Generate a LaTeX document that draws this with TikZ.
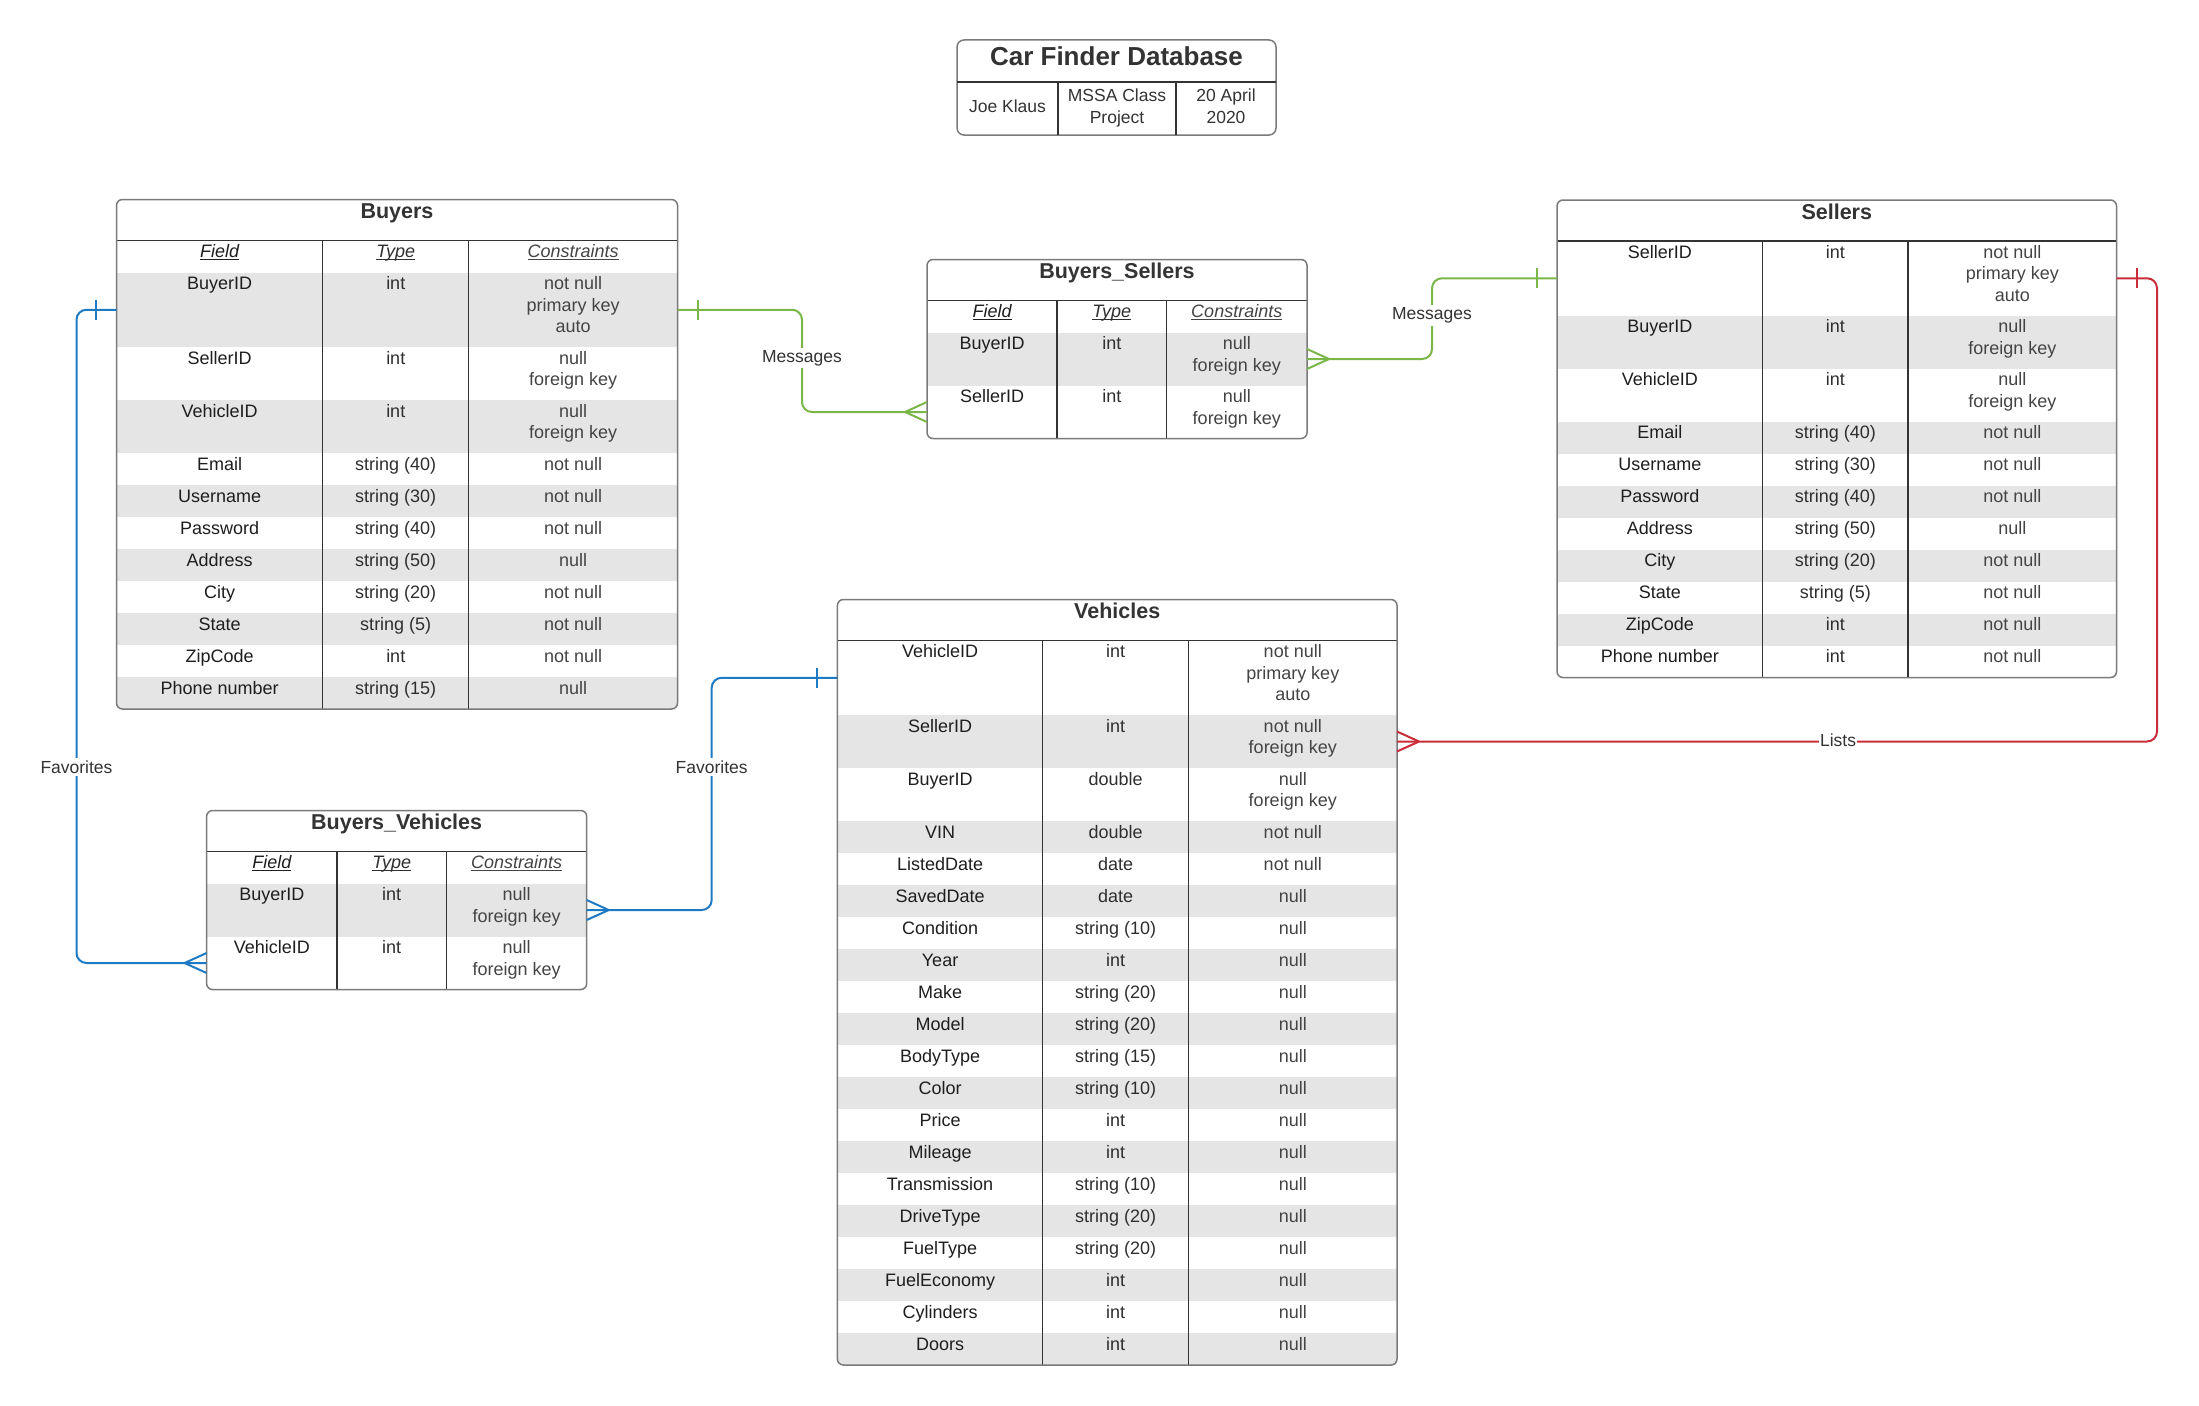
\documentclass[tikz,border=0pt]{standalone}
\usepackage{fontspec}
\setmainfont{Liberation Sans}
\usetikzlibrary{calc}

\definecolor{rowgray}{HTML}{E5E5E5}
\definecolor{framegray}{HTML}{7A7A7A}
\definecolor{linedark}{HTML}{333333}
\definecolor{fieldtext}{HTML}{1E1E1E}
\definecolor{typetext}{HTML}{2E2E2E}
\definecolor{constext}{HTML}{444444}
\definecolor{titletext}{HTML}{333333}
\definecolor{relgreen}{HTML}{7AB648}
\definecolor{relblue}{HTML}{1E7BC3}
\definecolor{relred}{HTML}{C92D39}

\newcommand\cellfont{\fontsize{18}{21.6}\selectfont}
\newcommand\subfont{\fontsize{17.5}{22}\selectfont}
% underlined column heading
\newcommand\ulhead[1]{\setbox0\hbox{#1}\rlap{\rule[-2.2pt]{\wd0}{1.1pt}}\box0}

\tikzset{
  rowbox/.style={rectangle, draw=none, inner sep=0pt, outer sep=0pt, anchor=north west},
  cell/.style={font=\cellfont, align=center, inner sep=0pt, anchor=north},
  subcell/.style={font=\subfont, align=center, inner sep=0pt, anchor=north, text=titletext},
  tabtitle/.style={font=\fontsize{21.5}{25}\selectfont\bfseries, text=titletext, inner sep=0pt, anchor=base},
  tabframe/.style={rectangle, draw=framegray, line width=1.5pt, rounded corners=6pt,
    inner sep=0pt, outer sep=0pt, anchor=north west},
  divider/.style={draw=linedark, line width=1.2pt},
  conn/.style={line width=2pt, rounded corners=10pt},
  cfoot/.style={line width=2pt},
  lbl/.style={fill=white, inner sep=2.5pt, font=\fontsize{17.5}{21}\selectfont, text=titletext},
}

% table geometry: left, right, first divider, second divider, top, bottom
\newcommand\tabsetup[6]{%
  \def\xL{#1}\def\xR{#2}\def\xA{#3}\def\xB{#4}\def\yT{#5}\def\yB{#6}%
  \pgfmathsetmacro\cA{(#1+#3)/2}%
  \pgfmathsetmacro\cB{(#3+#4)/2}%
  \pgfmathsetmacro\cC{(#4+#2)/2}%
  \pgfmathsetmacro\tw{#2-#1}%
  \pgfmathsetmacro\tabh{#6-#5}%
  \pgfmathsetmacro\tmid{(#1+#2)/2}%
  \pgfmathsetmacro\ynext{#5+41}\xdef\ycur{\ynext}%
}

% one table row: name, height, fill, field, type, constraints
\newcommand\trow[6]{%
  \node[rowbox, fill=#3, minimum width=\tw, minimum height=#2] (#1) at (\xL,\ycur) {};
  \node[cell, text=fieldtext] (#1-f) at (\cA,\ycur+3) {\rule{0pt}{14pt}#4};
  \node[cell, text=typetext] (#1-t) at (\cB,\ycur+3) {\rule{0pt}{14pt}#5};
  \node[cell, text=constext] (#1-c) at (\cC,\ycur+3) {\rule{0pt}{14pt}#6};
  \pgfmathsetmacro\ynext{\ycur+#2}\xdef\ycur{\ynext}%
}

\newcommand\headrow[1]{%
  \trow{#1}{32}{white}{\ulhead{\itshape Field}}{\ulhead{\itshape Type}}{\ulhead{\itshape Constraints}}}

% title, rules and rounded frame of a table
\newcommand\tabframe[2]{%
  \node[tabtitle] (#1-title) at (\tmid,\yT+19.2) {#2};
  \draw[divider] (\xL,\yT+41) -- (\xR,\yT+41);
  \draw[divider] (\xA,\yT+41) -- (\xA,\yB);
  \draw[divider] (\xB,\yT+41) -- (\xB,\yB);
  \node[tabframe, minimum width=\tw, minimum height=\tabh] (#1) at (\xL,\yT) {};
}

% relationship ends: crow's foot (many) and bar (one)
\newcommand\manyW[2]{\draw[#2, cfoot] ($(#1)+(-22,0)$) -- ($(#1)+(0,-10)$) ($(#1)+(-22,0)$) -- ($(#1)+(0,10)$);}
\newcommand\manyE[2]{\draw[#2, cfoot] ($(#1)+(22,0)$) -- ($(#1)+(0,-10)$) ($(#1)+(22,0)$) -- ($(#1)+(0,10)$);}
\newcommand\oneW[2]{\draw[#2, cfoot] ($(#1)+(-20.5,-10)$) -- ($(#1)+(-20.5,10)$);}
\newcommand\oneE[2]{\draw[#2, cfoot] ($(#1)+(20.5,-10)$) -- ($(#1)+(20.5,10)$);}

\begin{document}
\begin{tikzpicture}[x=1pt, y=-1pt]
\fill[white] (0,0) rectangle (2199,1405);
\useasboundingbox (0,0) rectangle (2199,1405);

% ---------- title block ----------
\node[tabframe, minimum width=319, minimum height=95, rounded corners=7pt] (titlebox) at (957,40) {};
\draw[divider] (957,82) -- (1276,82);
\draw[divider] (1058,82) -- (1058,135);
\draw[divider] (1176,82) -- (1176,135);
\node[font=\fontsize{26}{31}\selectfont\bfseries, text=titletext, inner sep=0pt, anchor=base] (title) at (1116.5,66) {Car Finder Database};
\node[subcell] (author) at (1007.5,98) {\rule{0pt}{14pt}Joe Klaus};
\node[subcell] (course) at (1117,87.7) {\rule{0pt}{14pt}MSSA Class\\Project};
\node[subcell] (date) at (1226,87.7) {\rule{0pt}{14pt}20 April\\2020};

% ---------- Buyers ----------
\tabsetup{116.5}{677.5}{322.7}{468.8}{199.5}{709}
\begin{scope}
\clip[rounded corners=6pt] (\xL,\yT) rectangle (\xR,\yB);
\headrow{bu-head}
\trow{bu-BuyerID}{74.5}{rowgray}{BuyerID}{int}{not null\\primary key\\auto}
\trow{bu-SellerID}{53}{white}{SellerID}{int}{null\\foreign key}
\trow{bu-VehicleID}{53}{rowgray}{VehicleID}{int}{null\\foreign key}
\trow{bu-Email}{32}{white}{Email}{string (40)}{not null}
\trow{bu-Username}{32}{rowgray}{Username}{string (30)}{not null}
\trow{bu-Password}{32}{white}{Password}{string (40)}{not null}
\trow{bu-Address}{32}{rowgray}{Address}{string (50)}{null}
\trow{bu-City}{32}{white}{City}{string (20)}{not null}
\trow{bu-State}{32}{rowgray}{State}{string (5)}{not null}
\trow{bu-ZipCode}{32}{white}{ZipCode}{int}{not null}
\trow{bu-Phone}{32}{rowgray}{Phone number}{string (15)}{null}
\end{scope}
\tabframe{buyers}{Buyers}

% ---------- Buyers_Sellers ----------
\tabsetup{927}{1307}{1057}{1166.5}{259.5}{438.5}
\begin{scope}
\clip[rounded corners=6pt] (\xL,\yT) rectangle (\xR,\yB);
\headrow{bs-head}
\trow{bs-BuyerID}{53}{rowgray}{BuyerID}{int}{null\\foreign key}
\trow{bs-SellerID}{53}{white}{SellerID}{int}{null\\foreign key}
\end{scope}
\tabframe{buyerssellers}{Buyers\_Sellers}

% ---------- Sellers ----------
\tabsetup{1557}{2116.5}{1762.7}{1908}{200}{677.5}
\begin{scope}
\clip[rounded corners=6pt] (\xL,\yT) rectangle (\xR,\yB);
\trow{se-SellerID}{74.5}{white}{SellerID}{int}{not null\\primary key\\auto}
\trow{se-BuyerID}{53}{rowgray}{BuyerID}{int}{null\\foreign key}
\trow{se-VehicleID}{53}{white}{VehicleID}{int}{null\\foreign key}
\trow{se-Email}{32}{rowgray}{Email}{string (40)}{not null}
\trow{se-Username}{32}{white}{Username}{string (30)}{not null}
\trow{se-Password}{32}{rowgray}{Password}{string (40)}{not null}
\trow{se-Address}{32}{white}{Address}{string (50)}{null}
\trow{se-City}{32}{rowgray}{City}{string (20)}{not null}
\trow{se-State}{32}{white}{State}{string (5)}{not null}
\trow{se-ZipCode}{32}{rowgray}{ZipCode}{int}{not null}
\trow{se-Phone}{32}{white}{Phone number}{int}{not null}
\end{scope}
\tabframe{sellers}{Sellers}

% ---------- Vehicles ----------
\tabsetup{837.4}{1397}{1042.7}{1188.5}{599.5}{1365}
\begin{scope}
\clip[rounded corners=6pt] (\xL,\yT) rectangle (\xR,\yB);
\trow{ve-VehicleID}{74.5}{white}{VehicleID}{int}{not null\\primary key\\auto}
\trow{ve-SellerID}{53}{rowgray}{SellerID}{int}{not null\\foreign key}
\trow{ve-BuyerID}{53}{white}{BuyerID}{double}{null\\foreign key}
\trow{ve-VIN}{32}{rowgray}{VIN}{double}{not null}
\trow{ve-ListedDate}{32}{white}{ListedDate}{date}{not null}
\trow{ve-SavedDate}{32}{rowgray}{SavedDate}{date}{null}
\trow{ve-Condition}{32}{white}{Condition}{string (10)}{null}
\trow{ve-Year}{32}{rowgray}{Year}{int}{null}
\trow{ve-Make}{32}{white}{Make}{string (20)}{null}
\trow{ve-Model}{32}{rowgray}{Model}{string (20)}{null}
\trow{ve-BodyType}{32}{white}{BodyType}{string (15)}{null}
\trow{ve-Color}{32}{rowgray}{Color}{string (10)}{null}
\trow{ve-Price}{32}{white}{Price}{int}{null}
\trow{ve-Mileage}{32}{rowgray}{Mileage}{int}{null}
\trow{ve-Transmission}{32}{white}{Transmission}{string (10)}{null}
\trow{ve-DriveType}{32}{rowgray}{DriveType}{string (20)}{null}
\trow{ve-FuelType}{32}{white}{FuelType}{string (20)}{null}
\trow{ve-FuelEconomy}{32}{rowgray}{FuelEconomy}{int}{null}
\trow{ve-Cylinders}{32}{white}{Cylinders}{int}{null}
\trow{ve-Doors}{32}{rowgray}{Doors}{int}{null}
\end{scope}
\tabframe{vehicles}{Vehicles}

% ---------- Buyers_Vehicles ----------
\tabsetup{206.6}{586.7}{337}{446.4}{810.5}{989.5}
\begin{scope}
\clip[rounded corners=6pt] (\xL,\yT) rectangle (\xR,\yB);
\headrow{bv-head}
\trow{bv-BuyerID}{53}{rowgray}{BuyerID}{int}{null\\foreign key}
\trow{bv-VehicleID}{53}{white}{VehicleID}{int}{null\\foreign key}
\end{scope}
\tabframe{buyersvehicles}{Buyers\_Vehicles}

% ---------- relationships ----------
\coordinate (msgA) at (802,0);
\coordinate (msgB) at (1432,0);
\coordinate (lst) at (2157,0);
\coordinate (favL) at (76.5,0);
\coordinate (favR) at (711.7,0);

\draw[relgreen, conn] (bu-BuyerID.east) -| (msgA |- bs-SellerID.west) -- (bs-SellerID.west);
\oneE{bu-BuyerID.east}{relgreen}
\manyW{bs-SellerID.west}{relgreen}

\draw[relgreen, conn] (bs-BuyerID.east) -| (msgB |- se-SellerID.west) -- (se-SellerID.west);
\manyE{bs-BuyerID.east}{relgreen}
\oneW{se-SellerID.west}{relgreen}

\draw[relred, conn] (se-SellerID.east) -| (lst |- ve-SellerID.east) -- (ve-SellerID.east);
\oneE{se-SellerID.east}{relred}
\manyE{ve-SellerID.east}{relred}

\draw[relblue, conn] (bu-BuyerID.west) -| (favL |- bv-VehicleID.west) -- (bv-VehicleID.west);
\oneW{bu-BuyerID.west}{relblue}
\manyW{bv-VehicleID.west}{relblue}

\draw[relblue, conn] (bv-BuyerID.east) -| (favR |- ve-VehicleID.west) -- (ve-VehicleID.west);
\manyE{bv-BuyerID.east}{relblue}
\oneW{ve-VehicleID.west}{relblue}

\node[lbl] (lblMsgA) at (802,358) {Messages};
\node[lbl] (lblMsgB) at (1432,315.7) {Messages};
\node[lbl, inner sep=1pt] (lblLists) at (1838,740) {Lists};
\node[lbl] (lblFavL) at (76.5,767) {Favorites};
\node[lbl] (lblFavR) at (711.7,767) {Favorites};
\end{tikzpicture}
\end{document}
